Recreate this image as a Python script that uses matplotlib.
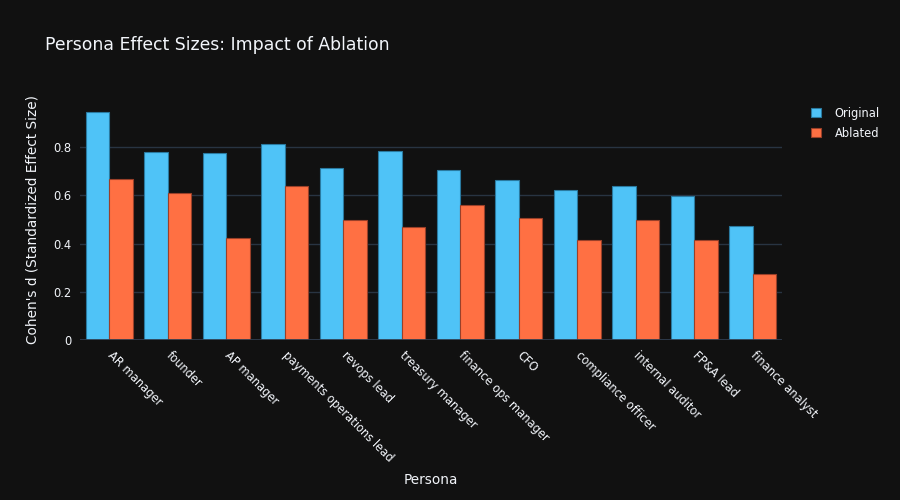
import numpy as np
from matplotlib import pyplot as plt

personas = ["AR manager", "founder", "AP manager", "payments operations lead",
            "revops lead", "treasury manager", "finance ops manager", "CFO",
            "compliance officer", "internal auditor", "FP&A lead", "finance analyst"]
original = [0.946, 0.779, 0.775, 0.812, 0.715, 0.785, 0.705, 0.665, 0.621, 0.640, 0.598, 0.475]
ablated = [0.669, 0.611, 0.423, 0.640, 0.500, 0.469, 0.561, 0.508, 0.414, 0.500, 0.415, 0.275]

bg = "#111111"
txt = "#f2f5fa"
grid = "#283442"

plt.rcParams['font.family'] = ['DejaVu Sans']

fig = plt.figure(figsize=(9, 5), dpi=100)
fig.patch.set_facecolor(bg)
ax = fig.add_axes([80 / 900, 160 / 500, 702 / 900, 240 / 500])
ax.set_facecolor(bg)

x = np.arange(len(personas))
w = 0.4
ax.bar(x - w / 2, original, w, color="#4fc3f7", edgecolor="#2a7aa0", linewidth=0.8,
       label="Original", zorder=3)
ax.bar(x + w / 2, ablated, w, color="#ff7043", edgecolor="#9a4029", linewidth=0.8,
       label="Ablated", zorder=3)

ax.set_xlim(-0.5, len(personas) - 0.5)
ax.set_ylim(0, max(original) * 1.053)
ax.set_yticks([0, 0.2, 0.4, 0.6, 0.8])
ax.set_yticklabels(["0", "0.2", "0.4", "0.6", "0.8"])
ax.yaxis.grid(True, color=grid, linewidth=1, zorder=0)
ax.axhline(0, color="#2f3d4e", linewidth=2, zorder=4)
for s in ax.spines.values():
    s.set_visible(False)
ax.tick_params(axis='both', length=0, colors=txt, labelsize=8.3)
ax.tick_params(axis='y', pad=6)

ax.set_xticks(x)
ax.set_xticklabels(personas, rotation=-45, ha='left', va='center',
                   rotation_mode='anchor')
ax.tick_params(axis='x', pad=10)

ax.set_xlabel("Persona", color=txt, fontsize=9.8, labelpad=6)
ax.set_ylabel("Cohen's d (Standardized Effect Size)", color=txt, fontsize=9.8, labelpad=10)

fig.text(45 / 900, 1 - 45 / 500, "Persona Effect Sizes: Impact of Ablation",
         color=txt, fontsize=12.4, va='center', ha='left')

leg = ax.legend(loc='upper left', bbox_to_anchor=(806 / 900, 1 - 102 / 500),
                bbox_transform=fig.transFigure, frameon=False, fontsize=8.3,
                handlelength=0.9, handleheight=0.9, handletextpad=1.2,
                labelspacing=0.6, borderaxespad=0)
for t in leg.get_texts():
    t.set_color(txt)

fig.savefig("out.png", facecolor=bg)
